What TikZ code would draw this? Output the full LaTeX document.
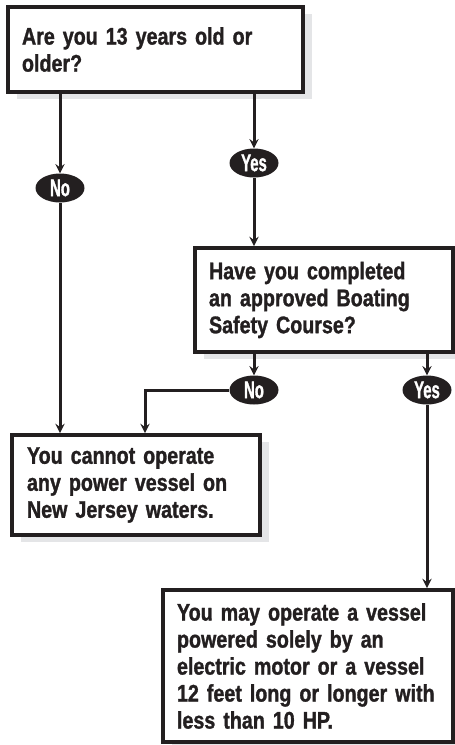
\documentclass[tikz,border=0pt]{standalone}
\usepackage{fontspec}
\setmainfont{Liberation Sans}[FakeStretch=0.82, BoldFeatures={FakeBold=1.2}]
\newfontfamily\tagfont{Liberation Sans}[FakeStretch=0.62, BoldFeatures={FakeBold=1.2}]
\usepackage{xcolor}
\usetikzlibrary{shapes.geometric, arrows, positioning, shadows}
\definecolor{inkblack}{HTML}{231F20}
\definecolor{shadegray}{HTML}{E4E5E7}

\begin{document}
\begin{tikzpicture}[
        x=1pt, y=-1pt,
        box/.style={rectangle, draw=inkblack, line width=4pt, fill=white, text=inkblack, align=left, inner sep=0pt, font=\fontsize{24}{27}\selectfont\bfseries, drop shadow={shadow xshift=9pt, shadow yshift=-7pt, fill=shadegray, opacity=1}},
        tag/.style={ellipse, fill=inkblack, text=white, inner sep=0pt, minimum width=49pt, minimum height=29pt, font=\tagfont\fontsize{24}{24}\selectfont\bfseries},
        arrow/.style={line width=3pt, draw=inkblack, ->, >=stealth}
    ]
    \useasboundingbox (0,0) rectangle (455,745);

    % Questions
    \node[box, minimum width=295pt, minimum height=85pt, text width=267pt] (age) at (155.5,49.5) {Are you 13 years old or\\older?};
    \node[box, minimum width=258pt, minimum height=104pt, text width=230pt] (course) at (324,300) {Have you completed\\an approved Boating\\Safety Course?};

    % Answers
    \node[box, minimum width=248pt, minimum height=100pt, text width=218pt] (cannot) at (136,485) {You cannot operate\\any power vessel on\\New Jersey waters.};
    \node[box, minimum width=290pt, minimum height=152pt, text width=262pt] (may) at (308,666) {You may operate a vessel\\powered solely by an\\electric motor or a vessel\\12 feet long or longer with\\less than 10 HP.};

    % Yes / No tags
    \node[tag] (ageno) at (60,188) {No};
    \node[tag] (ageyes) at (254,163) {Yes};
    \node[tag] (courseno) at (254,390) {No};
    \node[tag] (courseyes) at (427,390) {Yes};

    % Connections - age question
    \draw[arrow] (age.south -| ageno.north) -- (ageno.north);
    \draw[arrow] (ageno.south) -- (ageno.south |- cannot.north);
    \draw[arrow] (age.south -| ageyes.north) -- (ageyes.north);
    \draw[arrow] (ageyes.south) -- (ageyes.south |- course.north);

    % Connections - course question
    \draw[arrow] (course.south -| courseno.north) -- (courseno.north);
    \draw[arrow] (courseno.west) -| ([xshift=9pt]cannot.north);
    \draw[arrow] (course.south -| courseyes.north) -- (courseyes.north);
    \draw[arrow] (courseyes.south) -- (courseyes.south |- may.north);

\end{tikzpicture}
\end{document}
